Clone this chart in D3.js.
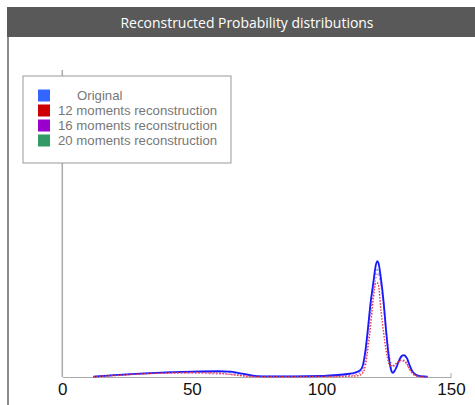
<!DOCTYPE html>
<html><head><meta charset="utf-8">
<script src="https://cdn.jsdelivr.net/npm/d3@7"></script>
<style>body{margin:0;background:#fff}svg{display:block}</style>
</head><body>
<script>
// ---- data ----
const title = "Reconstructed Probability distributions";
const seriesNames = ["Original", "12 moments reconstruction", "16 moments reconstruction", "20 moments reconstruction"];
const legendColors = ["#3366ff", "#cc0000", "#9900cc", "#339966"];
const xTicks = [0, 50, 100, 150];
const xs = [12,20,30,40,50,60,65,70,75,80,90,100,105,110,113,115,116,117,118,119,120,121,121.6,122,123,124,125,126,127,127.5,128,129,130,131,132,133,134,135,136,138,141];
// values in units of 1e-3 probability
const original = [0.1,0.5,0.9,1.2,1.4,1.5,1.4,0.8,0.25,0.18,0.16,0.26,0.47,0.78,1.17,1.8,3.1,7.0,13.0,19.5,24.5,29.2,30.2,29.7,25.5,19.5,11.7,5.2,1.6,1.05,1.3,2.6,4.4,5.5,5.7,4.9,3.1,1.6,0.8,0.25,0.1];
const m12 = [0.08,0.4,0.8,1.05,1.17,1.05,0.65,0.26,0.08,0.05,0.08,0.13,0.13,0.2,0.26,0.52,1.05,3.1,7.8,13.5,20.3,24.5,24.5,24.0,17.2,11.5,6.8,3.6,2.9,2.9,3.1,3.6,4.2,4.4,4.3,3.4,2.1,1.05,0.5,0.13,0.0];
const m16 = [0.05,0.35,0.75,1.0,1.0,0.8,0.7,0.4,0.15,0.1,0.1,0.15,0.2,0.35,0.6,1.0,2.0,5.0,10.5,16.5,22.0,25.8,26.8,26.9,24.0,19.0,12.5,6.5,3.2,2.6,2.8,3.4,3.9,4.1,4.0,3.2,2.0,1.0,0.45,0.12,0.0];
const m20 = [0.1,0.45,0.85,1.15,1.3,1.35,1.2,0.6,0.2,0.15,0.15,0.25,0.4,0.7,1.05,1.6,2.8,6.5,12.5,19.0,24.0,27.3,28.0,27.6,24.0,18.5,11.5,5.5,2.0,1.4,1.6,2.8,4.3,5.2,5.4,4.6,2.9,1.5,0.7,0.2,0.05];

const W = 475, H = 405;
const svg = d3.select("body").append("svg").attr("width", W).attr("height", H);

// title bar
svg.append("rect").attr("x", 7).attr("y", 7).attr("width", W - 7).attr("height", 30).attr("fill", "#595959");
svg.append("text").attr("x", 247).attr("y", 27.5).attr("text-anchor", "middle")
  .attr("font-family", "Open Sans, Noto Sans, sans-serif").attr("font-size", 14.5).attr("fill", "#fff")
  .attr("textLength", 253).attr("lengthAdjust", "spacingAndGlyphs").text(title);
// left frame line
svg.append("line").attr("x1", 8).attr("x2", 8).attr("y1", 37).attr("y2", H).attr("stroke", "#666").attr("stroke-width", 1.5);

const x = d3.scaleLinear().domain([0, 150]).range([62.3, 451]);
const y = d3.scaleLinear().domain([0, 80]).range([377, 70]);

// y axis line
svg.append("line").attr("x1", x(0)).attr("x2", x(0)).attr("y1", y(80)).attr("y2", y(0)).attr("stroke", "#aaa").attr("stroke-width", 1.5);

// x axis
const xAxis = d3.axisBottom(x).tickValues(xTicks).tickSize(0).tickPadding(6).tickFormat(d3.format("d"));
const gx = svg.append("g").attr("transform", `translate(0,${y(0)})`).call(xAxis);
gx.select(".domain").attr("stroke", "#aaa").attr("stroke-width", 1.2);
gx.selectAll("text").attr("font-family", "Liberation Sans, Arial, sans-serif").attr("font-size", 17).attr("fill", "#111");
gx.append("line").attr("x1", x(150)).attr("x2", x(150)).attr("y1", 0).attr("y2", -4).attr("stroke", "#aaa");

// lines
const line = (vals) => d3.line().x((d, i) => x(xs[i])).y(d => y(d)).curve(d3.curveMonotoneX)(vals);
svg.append("path").attr("d", line(m20)).attr("fill", "none").attr("stroke", "#7fa0ff").attr("stroke-width", 1.4).attr("stroke-dasharray", "3,2");
svg.append("path").attr("d", line(m16)).attr("fill", "none").attr("stroke", "#e070e8").attr("stroke-width", 1.5).attr("stroke-dasharray", "1.5,2");
svg.append("path").attr("d", line(original)).attr("fill", "none").attr("stroke", "#1a1aff").attr("stroke-width", 1.8);
svg.append("path").attr("d", line(m12)).attr("fill", "none").attr("stroke", "#e83a3a").attr("stroke-width", 1.4).attr("stroke-dasharray", "1.5,1.5");

// legend
svg.append("rect").attr("x", 23).attr("y", 76).attr("width", 208).attr("height", 87).attr("fill", "#fff").attr("stroke", "#999");
const lg = svg.append("g");
seriesNames.forEach((n, i) => {
  const yy = 89.5 + i * 15;
  lg.append("rect").attr("x", 38).attr("y", yy).attr("width", 12).attr("height", 12).attr("fill", legendColors[i]);
  lg.append("text").attr("x", i === 0 ? 77 : 58).attr("y", yy + 10.5).attr("font-family", "Liberation Sans, Arial, sans-serif")
    .attr("font-size", 13.2).attr("fill", "#777").text(n);
});
</script>
</body></html>
